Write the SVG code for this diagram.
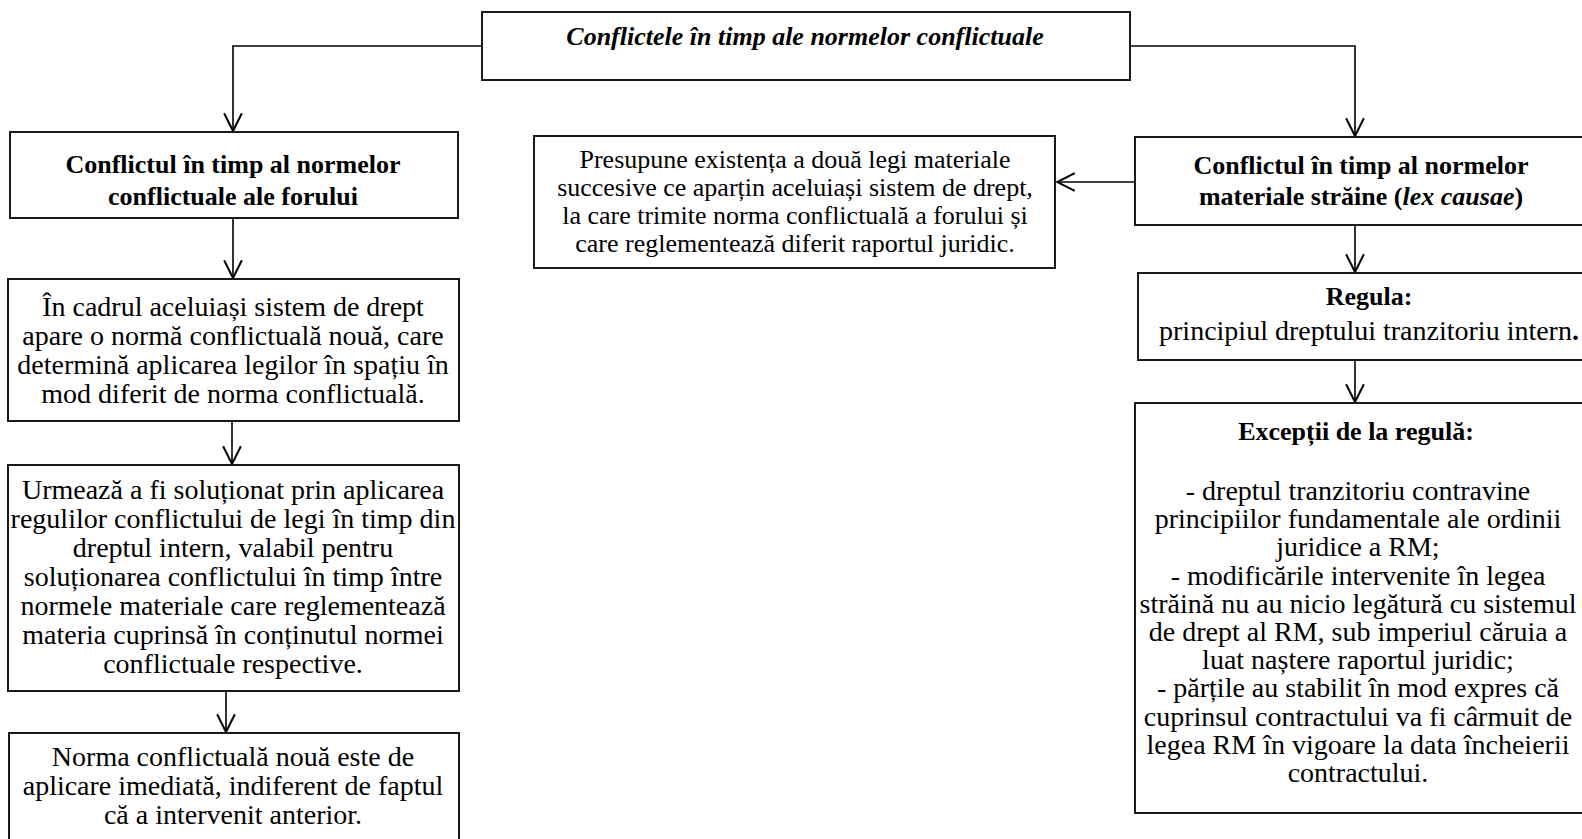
<svg xmlns="http://www.w3.org/2000/svg" width="1582" height="839" viewBox="0 0 1582 839">
<style>
.box{fill:#fff;stroke:#1a1a1a;stroke-width:2}
.t{font-family:"Liberation Serif","Times New Roman",serif;font-size:26px;fill:#000;text-anchor:middle}
.r{font-size:28px}
.b{font-weight:bold}
.bi{font-weight:bold;font-style:italic}
.c{fill:none;stroke:#000;stroke-width:1.6}
</style>
<defs>
<marker id="arr" markerUnits="userSpaceOnUse" markerWidth="20" markerHeight="20" viewBox="-17 -9 18 18" refX="0" refY="0" orient="auto">
<path d="M-16,-8 L0,0 L-16,8" fill="none" stroke="#000" stroke-width="1.8"/>
</marker>
</defs>
<rect width="1582" height="839" fill="#fff"/>
<g id="connectors">
<path class="c" d="M482,46 H233 V131" marker-end="url(#arr)"/>
<path class="c" d="M1130,46 H1355 V136" marker-end="url(#arr)"/>
<path class="c" d="M233,218 V278" marker-end="url(#arr)"/>
<path class="c" d="M232,421 V464" marker-end="url(#arr)"/>
<path class="c" d="M226,691 V732" marker-end="url(#arr)"/>
<path class="c" d="M1135,182 H1057" marker-end="url(#arr)"/>
<path class="c" d="M1355,225 V272" marker-end="url(#arr)"/>
<path class="c" d="M1355,360 V402" marker-end="url(#arr)"/>
</g>
<g id="top">
<rect class="box" x="482" y="12" width="648" height="68"/>
<text class="t bi" x="805" y="45">Conflictele în timp ale normelor conflictuale</text>
</g>
<g id="left1">
<rect class="box" x="10" y="132" width="448" height="86"/>
<text class="t b" x="233" y="173">Conflictul în timp al normelor</text>
<text class="t b" x="233" y="205">conflictuale ale forului</text>
</g>
<g id="left2">
<rect class="box" x="8" y="279" width="451" height="142"/>
<text class="t r" x="233" y="316">În cadrul aceluiași sistem de drept</text>
<text class="t r" x="233" y="345">apare o normă conflictuală nouă, care</text>
<text class="t r" x="233" y="374">determină aplicarea legilor în spațiu în</text>
<text class="t r" x="233" y="403">mod diferit de norma conflictuală.</text>
</g>
<g id="left3">
<rect class="box" x="8" y="465" width="451" height="226"/>
<text class="t r" x="233" y="499">Urmează a fi soluționat prin aplicarea</text>
<text class="t r" x="233" y="528">regulilor conflictului de legi în timp din</text>
<text class="t r" x="233" y="557">dreptul intern, valabil pentru</text>
<text class="t r" x="233" y="586">soluționarea conflictului în timp între</text>
<text class="t r" x="233" y="615">normele materiale care reglementează</text>
<text class="t r" x="233" y="644">materia cuprinsă în conținutul normei</text>
<text class="t r" x="233" y="673">conflictuale respective.</text>
</g>
<g id="left4">
<rect class="box" x="9" y="733" width="450" height="130"/>
<text class="t r" x="233" y="766">Norma conflictuală nouă este de</text>
<text class="t r" x="233" y="795">aplicare imediată, indiferent de faptul</text>
<text class="t r" x="233" y="824">că a intervenit anterior.</text>
</g>
<g id="middle">
<rect class="box" x="534" y="136" width="521" height="132"/>
<text class="t" x="795" y="168">Presupune existența a două legi materiale</text>
<text class="t" x="795" y="196">succesive ce aparțin aceluiași sistem de drept,</text>
<text class="t" x="795" y="224">la care trimite norma conflictuală a forului și</text>
<text class="t" x="795" y="252">care reglementează diferit raportul juridic.</text>
</g>
<g id="right1">
<rect class="box" x="1135" y="137" width="470" height="88"/>
<text class="t b" x="1361" y="174">Conflictul în timp al normelor</text>
<text class="t b" x="1361" y="205">materiale străine (<tspan class="bi">lex causae</tspan>)</text>
</g>
<g id="right2">
<rect class="box" x="1138" y="273" width="470" height="87"/>
<text class="t b" x="1369" y="305">Regula:</text>
<text class="t r" x="1369" y="340">principiul dreptului tranzitoriu intern<tspan class="b">.</tspan></text>
</g>
<g id="right3">
<rect class="box" x="1135" y="403" width="470" height="410"/>
<text class="t b" x="1356" y="440">Excepții de la regulă:</text>
<text class="t r" x="1358" y="500">- dreptul tranzitoriu contravine</text>
<text class="t r" x="1358" y="528">principiilor fundamentale ale ordinii</text>
<text class="t r" x="1358" y="556">juridice a RM;</text>
<text class="t r" x="1358" y="585">- modificările intervenite în legea</text>
<text class="t r" x="1358" y="613">străină nu au nicio legătură cu sistemul</text>
<text class="t r" x="1358" y="641">de drept al RM, sub imperiul căruia a</text>
<text class="t r" x="1358" y="669">luat naștere raportul juridic;</text>
<text class="t r" x="1358" y="697">- părțile au stabilit în mod expres că</text>
<text class="t r" x="1358" y="726">cuprinsul contractului va fi cârmuit de</text>
<text class="t r" x="1358" y="754">legea RM în vigoare la data încheierii</text>
<text class="t r" x="1358" y="782">contractului.</text>
</g>
</svg>
